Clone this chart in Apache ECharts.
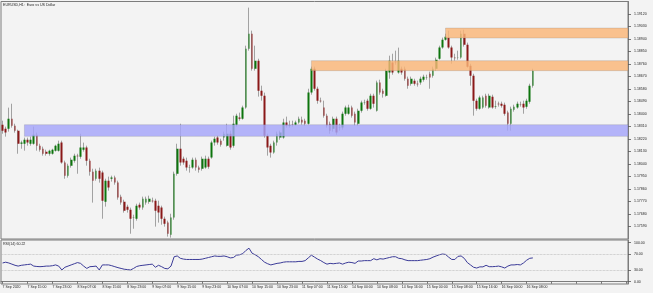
<!DOCTYPE html>
<html><head><meta charset="utf-8">
<script src="https://cdn.jsdelivr.net/npm/echarts@6/dist/echarts.min.js"></script>
<style>html,body{margin:0;padding:0;background:#f3f3f3}#c{width:653px;height:293px}</style>
</head><body><div id="c"></div>
<script>
const tickLabels = ['7 Sep 2020','7 Sep 15:00','7 Sep 23:00','8 Sep 07:00','8 Sep 15:00','8 Sep 23:00','9 Sep 07:00','9 Sep 15:00','9 Sep 23:00','10 Sep 07:00','10 Sep 15:00','10 Sep 23:00','11 Sep 07:00','11 Sep 15:00','14 Sep 00:00','14 Sep 08:00','14 Sep 16:00','15 Sep 00:00','15 Sep 08:00','15 Sep 16:00','16 Sep 00:00','16 Sep 08:00'];
const priceTicks = [1.1759,1.1768,1.1777,1.1786,1.1795,1.1804,1.1813,1.1822,1.1831,1.1840,1.1849,1.1858,1.1867,1.1876,1.1885,1.1894,1.1903,1.1912];
const rsiTicks = [0,30,70,100];

const openP = [
1.18323,1.18294,1.18294,1.18366,1.18316,1.18280,1.18186,1.18186,1.18215,1.18186,1.18186,1.18251,1.18172,1.18150,1.18129,1.18114,1.18114,1.18136,1.18136,1.18194,
1.18050,1.17956,1.18028,1.18064,1.18100,1.18093,1.18143,1.18158,1.18064,1.17985,1.17934,1.17992,1.17978,1.17769,1.17920,1.17934,1.17942,1.17906,1.17805,1.17769,
1.17733,1.17711,1.17654,1.17646,1.17747,1.17726,1.17762,1.17769,1.17776,1.17776,1.17740,1.17726,1.17646,1.17618,1.17531,1.17654,1.17970,1.18150,1.18078,1.18064,
1.18014,1.18014,1.18071,1.18014,1.18006,1.18014,1.18078,1.18086,1.18194,
1.18230,1.18208,1.18230,1.18172,1.18258,1.18172,1.18323,1.18374,1.18366,1.18446,1.18870,1.18978,1.18726,1.18784,1.18568,1.18532,1.18244,1.18172,1.18122,1.18194,
1.18230,1.18230,1.18338,1.18316,1.18323,1.18323,1.18338,1.18359,1.18352,1.18330,1.18554,1.18726,1.18582,1.18496,1.18446,1.18388,1.18330,1.18294,1.18366,1.18302,
1.18302,1.18402,1.18402,1.18446,1.18402,1.18330,1.18424,1.18482,1.18496,1.18438,1.18532,1.18424,1.18626,1.18568,1.18532,1.18698,1.18770,1.18777,1.18698,1.18726,
1.18726,1.18654,1.18618,1.18640,1.18618,1.18626,1.18647,1.18662,1.18690,1.18676,1.18726,
1.18798,1.18878,1.18935,1.18950,1.18878,1.18806,1.18806,1.18806,1.18978,1.18899,1.18748,1.18676,1.18496,1.18438,1.18446,1.18532,1.18446,1.18525,1.18453,1.18474,
1.18474,1.18467,1.18410,1.18330,1.18431,1.18446,1.18467,1.18474,1.18453,1.18489,1.18604];
const closeP = [
1.18280,1.18266,1.18366,1.18316,1.18280,1.18186,1.18194,1.18215,1.18194,1.18215,1.18251,1.18172,1.18143,1.18114,1.18114,1.18136,1.18143,1.18172,1.18186,1.18050,
1.17956,1.18028,1.18071,1.18100,1.18096,1.18158,1.18158,1.18064,1.17985,1.17920,1.17992,1.17934,1.17776,1.17920,1.17870,1.17942,1.17906,1.17798,1.17762,1.17704,
1.17711,1.17646,1.17657,1.17740,1.17726,1.17790,1.17790,1.17790,1.17772,1.17704,1.17690,1.17646,1.17610,1.17538,1.17654,1.17970,1.18150,1.18050,1.18050,1.18014,
1.18017,1.18071,1.18014,1.17999,1.18078,1.18078,1.18021,1.18194,1.18222,
1.18194,1.18179,1.18258,1.18258,1.18158,1.18330,1.18388,1.18366,1.18446,1.18870,1.18978,1.18726,1.18784,1.18568,1.18532,1.18244,1.18158,1.18122,1.18194,1.18258,
1.18266,1.18338,1.18316,1.18320,1.18321,1.18338,1.18366,1.18338,1.18330,1.18554,1.18726,1.18582,1.18496,1.18492,1.18388,1.18316,1.18280,1.18366,1.18266,1.18305,
1.18402,1.18446,1.18446,1.18388,1.18338,1.18424,1.18482,1.18485,1.18438,1.18532,1.18474,1.18626,1.18554,1.18546,1.18712,1.18784,1.18698,1.18773,1.18784,1.18698,
1.18654,1.18604,1.18654,1.18618,1.18615,1.18654,1.18669,1.18665,1.18662,1.18726,1.18791,
1.18878,1.18935,1.18957,1.18878,1.18806,1.18802,1.18809,1.18978,1.18899,1.18741,1.18676,1.18496,1.18438,1.18518,1.18518,1.18460,1.18532,1.18446,1.18456,1.18471,
1.18460,1.18402,1.18330,1.18438,1.18453,1.18474,1.18464,1.18446,1.18496,1.18604,1.18712];
const lowP = [
1.18258,1.18237,1.18273,1.18302,1.18266,1.18114,1.18150,1.18136,1.18172,1.18172,1.18179,1.18136,1.18129,1.18100,1.18100,1.18100,1.18107,1.18129,1.18129,1.18042,
1.17934,1.17942,1.18014,1.18050,1.17970,1.18078,1.18129,1.18028,1.17956,1.17762,1.17920,1.17906,1.17646,1.17733,1.17848,1.17913,1.17891,1.17783,1.17747,1.17690,
1.17690,1.17538,1.17574,1.17632,1.17711,1.17711,1.17747,1.17754,1.17762,1.17589,1.17618,1.17603,1.17589,1.17517,1.17510,1.17639,1.17956,1.18028,1.18035,1.17992,
1.17978,1.18006,1.17992,1.17978,1.17992,1.18006,1.18006,1.18078,1.18172,
1.18179,1.18165,1.18208,1.18165,1.18143,1.18158,1.18309,1.18352,1.18359,1.18438,1.18856,1.18712,1.18712,1.18525,1.18496,1.18230,1.18100,1.18086,1.18114,1.18172,
1.18215,1.18222,1.18302,1.18302,1.18309,1.18316,1.18330,1.18323,1.18316,1.18323,1.18539,1.18568,1.18474,1.18482,1.18374,1.18302,1.18258,1.18273,1.18251,1.18280,
1.18287,1.18388,1.18395,1.18374,1.18316,1.18316,1.18410,1.18467,1.18424,1.18431,1.18446,1.18417,1.18539,1.18518,1.18525,1.18654,1.18683,1.18755,1.18690,1.18683,
1.18640,1.18582,1.18604,1.18604,1.18597,1.18611,1.18633,1.18647,1.18582,1.18662,1.18712,
1.18791,1.18870,1.18928,1.18870,1.18762,1.18784,1.18791,1.18798,1.18885,1.18734,1.18604,1.18388,1.18424,1.18431,1.18438,1.18446,1.18438,1.18438,1.18438,1.18453,
1.18446,1.18388,1.18280,1.18280,1.18417,1.18438,1.18453,1.18402,1.18438,1.18474,1.18590];
const highP = [
1.18352,1.18309,1.18446,1.18474,1.18330,1.18287,1.18208,1.18230,1.18230,1.18237,1.18309,1.18266,1.18186,1.18165,1.18143,1.18143,1.18150,1.18179,1.18208,1.18208,
1.18064,1.18042,1.18086,1.18114,1.18114,1.18258,1.18194,1.18172,1.18078,1.18006,1.18006,1.18014,1.17992,1.17934,1.17949,1.17956,1.17956,1.17920,1.17819,1.17783,
1.17747,1.17726,1.17675,1.17754,1.17762,1.17805,1.17805,1.17812,1.17798,1.17790,1.17776,1.17740,1.17661,1.17632,1.17682,1.17985,1.18186,1.18330,1.18093,1.18086,
1.18035,1.18086,1.18086,1.18028,1.18093,1.18100,1.18093,1.18208,1.18237,
1.18244,1.18222,1.18273,1.18330,1.18280,1.18388,1.18402,1.18410,1.18460,1.18892,1.19166,1.19000,1.18892,1.18798,1.18604,1.18554,1.18258,1.18186,1.18208,1.18273,
1.18280,1.18366,1.18381,1.18352,1.18352,1.18352,1.18381,1.18381,1.18366,1.18582,1.18741,1.18741,1.18597,1.18518,1.18496,1.18402,1.18345,1.18381,1.18381,1.18330,
1.18417,1.18460,1.18467,1.18460,1.18417,1.18438,1.18496,1.18503,1.18510,1.18546,1.18546,1.18640,1.18647,1.18582,1.18726,1.18820,1.18834,1.18856,1.18878,1.18741,
1.18741,1.18669,1.18669,1.18654,1.18640,1.18669,1.18683,1.18683,1.18705,1.18741,1.18806,
1.18892,1.18950,1.18978,1.19000,1.18892,1.18834,1.18856,1.19000,1.19007,1.18914,1.18762,1.18690,1.18510,1.18532,1.18532,1.18546,1.18546,1.18539,1.18496,1.18489,
1.18489,1.18482,1.18424,1.18453,1.18467,1.18489,1.18489,1.18496,1.18510,1.18618,1.18726];
const rsi14 = [
48,50,48,45,42,40,42,43,44,45,40,39,38.5,39,40,40,41,43,40,30,
37,40,43,46,49,47,40,34,38.5,39,40,30,43,43,43,41,38.5,36,34,32,
31,30,34,39,41,42,43,44,45,37,42,38.5,34,33,40,64,66,60,58,57,
57,57,57,57,58,60,62,64,66,65,65,66,64,61,62,68,69,72,80,86,
73,69,64,57,50,46,43,45,47,48,50,51,51,51,51,52,52,54,61,68,
63,58,54,49,45,47,46,47,48,45,48,50,49,47,53,53,54,54,54,59,
56,59,58,60,62,64,64,60,59,56,54,54,54,54,55,56,57,59,63,66,
69,71,70,63,57,57,65,66,60,49,43,37,35,38,38,42,38.5,38.5,39,40,
38,35,40,43,43,44,43,48,55,60,61];

const zoneStart = [7, 99, 142];
const zoneTop = [1.18323, 1.18784, 1.19019];
const zoneBottom = [1.18239, 1.18712, 1.18947];
const zoneFill = ['rgba(165,165,250,0.82)', 'rgba(250,182,120,0.82)', 'rgba(250,182,120,0.82)'];

const slotCount = 201;
const categories = Array.from({length: slotCount}, (_, i) => String(i));
const candles = openP.map((o, i) => [o, closeP[i], lowP[i], highP[i]]);
const FONT = 'Liberation Sans';
const TXT = '#1e1e1e';
const AX = '#7c7c7c';

const chart = echarts.init(document.getElementById('c'), null, {renderer: 'canvas', width: 653, height: 293});
chart.setOption({
  animation: false,
  backgroundColor: '#f3f3f3',
  textStyle: {fontFamily: FONT},
  title: [
    {text: 'EURUSD,H1:  Euro vs US Dollar', left: 3, top: 3, padding: 0, textStyle: {fontSize: 3.6, fontWeight: 'normal', color: TXT, fontFamily: FONT}},
    {text: 'RSI(14) 60.22', left: 3, top: 242, padding: 0, textStyle: {fontSize: 3.6, fontWeight: 'normal', color: TXT, fontFamily: FONT}}
  ],
  grid: [
    {left: 1, right: 25, top: 1.5, height: 237.5, show: true, borderColor: AX, borderWidth: 1, backgroundColor: 'transparent', containLabel: false, outerBoundsMode: 'none'},
    {left: 1, right: 25, top: 240, height: 44, show: true, borderColor: AX, borderWidth: 1, backgroundColor: 'transparent', containLabel: false, outerBoundsMode: 'none'}
  ],
  xAxis: [
    {type: 'category', gridIndex: 0, data: categories, boundaryGap: true, show: false},
    {type: 'category', gridIndex: 1, data: categories, boundaryGap: true,
      axisLine: {show: true, lineStyle: {color: AX, width: 1}},
      axisTick: {show: true, interval: 7, length: 2, alignWithLabel: true, lineStyle: {color: '#555', width: 0.8}},
      axisLabel: {interval: 7, formatter: (v, i) => tickLabels[i / 8] || '', fontSize: 3.5, color: TXT, align: 'left', margin: 1.5, fontFamily: FONT},
      splitLine: {show: false}}
  ],
  yAxis: [
    {type: 'value', gridIndex: 0, position: 'right', min: 1.1750, max: 1.1921, scale: true,
      splitLine: {show: false},
      axisLine: {show: true, lineStyle: {color: AX}},
      axisTick: {show: true, length: 3, customValues: priceTicks, lineStyle: {color: '#555', width: 0.8}},
      axisLabel: {customValues: priceTicks, formatter: v => v.toFixed(5), fontSize: 3.5, margin: 6, color: TXT, fontFamily: FONT}},
    {type: 'value', gridIndex: 1, position: 'right', min: -6, max: 107,
      splitLine: {show: false},
      axisLine: {show: true, lineStyle: {color: AX}},
      axisTick: {show: true, length: 3, customValues: rsiTicks, lineStyle: {color: '#555', width: 0.8}},
      axisLabel: {customValues: rsiTicks, formatter: v => v.toFixed(2), fontSize: 3.5, margin: 6, color: TXT, fontFamily: FONT}}
  ],
  series: [
    {type: 'candlestick', name: 'wicks', xAxisIndex: 0, yAxisIndex: 0, data: candles, barWidth: 1, silent: true, z: 2,
      itemStyle: {color: '#a2a2a2', color0: '#a2a2a2', borderColor: '#a2a2a2', borderColor0: '#a2a2a2', borderWidth: 1}},
    {type: 'candlestick', name: 'bodies', xAxisIndex: 0, yAxisIndex: 0, data: candles, barWidth: 2.2, silent: true, z: 3,
      itemStyle: {color: '#0c740c', color0: '#8a1818', borderColor: '#0c740c', borderColor0: '#8a1818', borderWidth: 0}},
    {type: 'custom', name: 'zones', xAxisIndex: 0, yAxisIndex: 0, z: 5, silent: true,
      data: zoneStart.map((s, i) => [s, zoneTop[i], zoneBottom[i], i]),
      encode: {x: 0, y: [1, 2]},
      renderItem: function (params, api) {
        const s = api.value(0);
        const p1 = api.coord([s, api.value(1)]);
        const p2 = api.coord([s, api.value(2)]);
        const right = params.coordSys.x + params.coordSys.width;
        return {type: 'rect', shape: {x: p1[0], y: p1[1], width: right - p1[0], height: p2[1] - p1[1]},
          style: {fill: zoneFill[api.value(3)], stroke: 'rgba(110,110,110,0.35)', lineWidth: 0.6}};
      }},
    {type: 'line', name: 'RSI(14)', xAxisIndex: 1, yAxisIndex: 1, data: rsi14, symbol: 'none', silent: true,
      lineStyle: {color: '#3b3b98', width: 1},
      markLine: {silent: true, symbol: 'none', label: {show: false}, animation: false,
        lineStyle: {type: 'dotted', color: '#b0b0b0', width: 0.7},
        data: [{yAxis: 30}, {yAxis: 70}]}}
  ]
});
</script>
</body></html>
